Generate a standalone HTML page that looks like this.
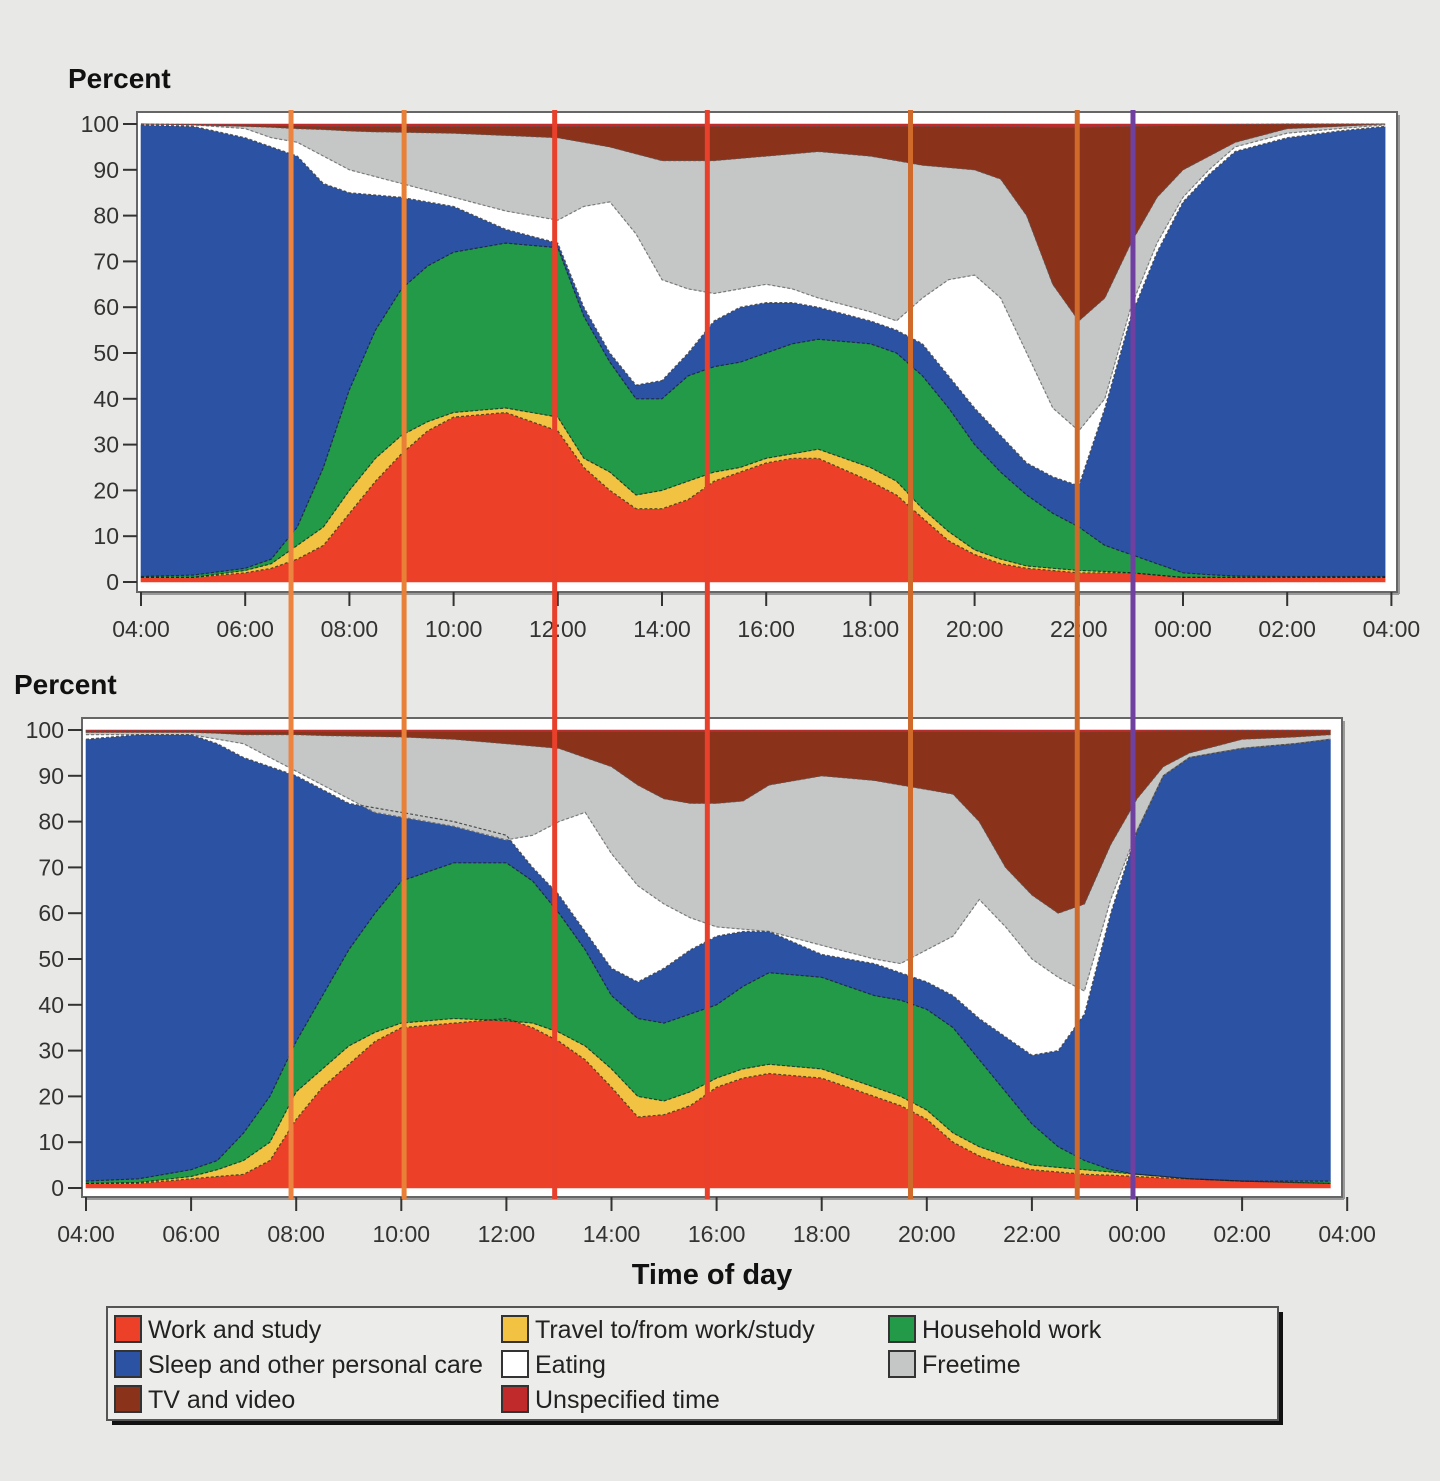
<!DOCTYPE html>
<html><head><meta charset="utf-8"><style>
html,body{margin:0;padding:0;background:#e8e8e6;}
svg{display:block;font-family:"Liberation Sans",sans-serif;}
</style></head><body>
<svg id="chart" width="1440" height="1481" viewBox="0 0 1440 1481" xmlns="http://www.w3.org/2000/svg">
<rect x="0" y="0" width="1440" height="1481" fill="#e8e8e6"/>
<g id="panels"></g>
<g id="vlines"></g>
<g id="legend">
  <rect x="112" y="1312" width="1171" height="113" fill="#111"/>
  <rect x="107" y="1307" width="1171" height="113" fill="#ececea" stroke="#555" stroke-width="2"/>
</g>
</svg>
<script>
// time grid (clock hours, 28 = 04:00 next day)
const topHours = [4,5,6,6.5,7,7.5,8,8.5,9,9.5,10,11,12,12.5,13,13.5,14,14.5,15,15.5,16,16.5,17,18,18.5,19,19.5,20,20.5,21,21.5,22,22.5,23,23.5,24,24.5,25,26,27,27.88];
const botHours = [4,5,6,6.5,7,7.5,8,8.5,9,9.5,10,11,12,12.5,13,13.5,14,14.5,15,15.5,16,16.5,17,18,18.5,19,19.5,20,20.5,21,21.5,22,22.5,23,23.5,24,24.5,25,26,27,27.68];
const tickLabels = ["04:00","06:00","08:00","10:00","12:00","14:00","16:00","18:00","20:00","22:00","00:00","02:00","04:00"];
const yTicks = [0,10,20,30,40,50,60,70,80,90,100];
const seriesNames = ["Work and study","Travel to/from work/study","Household work","Sleep and other personal care","Eating","Freetime","TV and video","Unspecified time"];
// Top panel cumulative upper bounds (%)
const topWork = [1,1,2,3,5,8,15,22,28,33,36,37,33,25,20,16,16,18,22,24,26,27,27,22,19,14,9,6,4,3,2.5,2,2,2,1.5,1,1,1,1,1,1];
const topTravel = [1,1,2.5,4,8,12,20,27,32,35,37,38,36,27,24,19,20,22,24,25,27,28,29,25,22,16,11,7,5,3.5,3,2.5,2.3,2,1.5,1,1,1,1,1,1];
const topHousehold = [1.2,1.5,3,5,12,25,42,55,64,69,72,74,73,58,48,40,40,45,47,48,50,52,53,52,50,45,38,30,24,19,15,12,8,6,4,2,1.6,1.3,1.2,1.2,1.2];
const topSleep = [99.8,99.5,97,95,93,87,85,84.5,84,83,82,77,74,60,50,43,44,50,57,60,61,61,60,57,55,52,45,38,32,26,23,21,38,58,72,83,89,94,97,98.5,99.5];
const topEating = [99.9,99.8,99,97,96,93,90,88.5,87,85.5,84,81,79,82,83,76,66,64,63,64,65,64,62,59,57,62,66,67,62,50,38,33,40,60,74,84,90,95,98,99,99.8];
const topFree = [100,99.8,99.5,99.3,99,98.8,98.5,98.3,98.2,98.1,98,97.5,97,96,95,93.5,92,92,92,92.5,93,93.5,94,93,92,91,90.5,90,88,80,65,57,62,74,84,90,93,96,99,99.5,100];
const topTV = [100,99.9,99.8,99.7,99.6,99.5,99.5,99.5,99.5,99.5,99.5,99.5,99.5,99.5,99.5,99.5,99.5,99.5,99.5,99.5,99.5,99.5,99.5,99.5,99.5,99.5,99.5,99.4,99.4,99.4,99.3,99.3,99.4,99.5,99.6,99.7,99.8,99.9,100,100,100];
// Bottom panel cumulative upper bounds (%)
const botWork = [1,1,2,2.5,3,6,15,22,27,32,35,36,37,35,32,28,22,15.5,16,18,22,24,25,24,22,20,18,15,10,7,5,4,3.5,3,2.8,2.5,2.2,2,1.5,1.2,1];
const botTravel = [1,1.2,2.5,4,6,10,21,26,31,34,36,37,36.5,36,34,31,26,20,19,21,24,26,27,26,24,22,20,17,12,9,7,5,4.5,4,3.5,3,2.5,2,1.5,1.2,1];
const botHousehold = [1.5,2,4,6,12,20,32,42,52,60,67,71,71,67,60,52,42,37,36,38,40,44,47,46,44,42,41,39,35,28,21,14,9,6,4,3,2.5,2,1.5,1.5,1.5];
const botSleep = [98,99,99,97,94,92,90,87,84,83,82,80,77,70,64,56,48,45,48,52,55,56,56,51,50,49,47,45,42,37,33,29,30,38,60,78,90,94,96,97,98];
const botEating = [99,99,99,98,97,94,91,88,85,82,81,79,76,77,80,82,73,66,62,59,57,56.5,56,53,51.5,50,49,52,55,63,57,50,46,43,63,78,90,94,96,97,98];
const botFree = [99.5,99.5,99.5,99.3,99,99,99,98.8,98.7,98.6,98.5,98,97,96.5,96,94,92,88,85,84,84,84.5,88,90,89.5,89,88,87,86,80,70,64,60,62,75,85,92,95,98,98.5,99];
const botTV = [99.8,99.8,99.8,99.7,99.7,99.7,99.7,99.7,99.7,99.7,99.7,99.7,99.7,99.7,99.7,99.7,99.7,99.7,99.7,99.7,99.7,99.7,99.7,99.7,99.7,99.7,99.7,99.7,99.7,99.7,99.6,99.6,99.6,99.6,99.7,99.7,99.8,99.8,99.9,99.9,99.9];
// vertical marker times (top-panel clock hours)
const markerHours = [6.88,9.05,11.94,14.87,18.77,21.97,23.04];

const colors = ["#ec4128","#f2c342","#229a48","#2b52a3","#ffffff","#c5c7c7","#8b321b","#c02a2a"];
const layerKeys = ["work","travel","household","sleep","eating","freetime","tv","unspecified"];
const NS = "http://www.w3.org/2000/svg";
function mk(tag, attrs, parent){const e=document.createElementNS(NS,tag);for(const k in attrs)e.setAttribute(k,attrs[k]);if(parent)parent.appendChild(e);return e;}

function drawPanel(cfg, hours, cums, idx){
  const g = mk("g",{},document.getElementById("panels"));
  
  
  const xS = h => cfg.x0 + (h-4)*cfg.pxh;
  const yS = v => cfg.y0 - v*cfg.pxv;
  const fr = mk("rect",{x:cfg.fx,y:cfg.fy,width:cfg.fw,height:cfg.fh,fill:"#fff",stroke:"#666","stroke-width":2},g);
  
  
  mk("line",{x1:cfg.fx+cfg.fw+2,y1:cfg.fy+3,x2:cfg.fx+cfg.fw+2,y2:cfg.fy+cfg.fh+2,stroke:"#999","stroke-width":2},g);
  mk("line",{x1:cfg.fx+3,y1:cfg.fy+cfg.fh+2,x2:cfg.fx+cfg.fw+2,y2:cfg.fy+cfg.fh+2,stroke:"#999","stroke-width":2},g);
  const lowers = [hours.map(()=>0)].concat(cums);
  const uppers = cums.concat([hours.map(()=>100)]);
  for(let L=0;L<8;L++){
    let d="";
    hours.forEach((h,i)=>{d+=(i?"L":"M")+xS(h).toFixed(1)+","+yS(uppers[L][i]).toFixed(1);});
    for(let i=hours.length-1;i>=0;i--){d+="L"+xS(hours[i]).toFixed(1)+","+yS(lowers[L][i]).toFixed(1);}
    d+="Z";
    const p = mk("path",{d:d,fill:colors[L],stroke:colors[L],"stroke-width":0.6},g);
    
    
  }
  for(let L=0;L<7;L++){
    let d="";
    hours.forEach((h,i)=>{d+=(i?"L":"M")+xS(h).toFixed(1)+","+yS(cums[L][i]).toFixed(1);});
    mk("path",{d:d,fill:"none",stroke:L>=4?"#555":"#1a1a1a","stroke-width":1.2,"stroke-dasharray":"3 2",opacity:0.7},g);
  }
  yTicks.forEach(v=>{
    const y=yS(v);
    mk("line",{x1:cfg.fx-14,y1:y,x2:cfg.fx,y2:y,stroke:"#333","stroke-width":2},g);
    const t=mk("text",{x:cfg.fx-18,y:y+8,"text-anchor":"end","font-size":23,fill:"#333"},g);
    t.textContent=v;
    
    
  });
  tickLabels.forEach((lab,i)=>{
    const x=xS(4+i*2);
    mk("line",{x1:x,y1:cfg.fy+cfg.fh,x2:x,y2:cfg.fy+cfg.fh+14,stroke:"#333","stroke-width":2},g);
    const t=mk("text",{x:x,y:cfg.fy+cfg.fh+45,"text-anchor":"middle","font-size":23,fill:"#333"},g);
    t.textContent=lab;
    
    
  });
  const yt=mk("text",{x:cfg.tx,y:cfg.ty,"font-size":28,"font-weight":"bold",fill:"#111"},g);
  yt.textContent="Percent";
  
  
}

drawPanel({x0:141,pxh:52.1,y0:582,pxv:4.58,fx:137,fy:112,fw:1260,fh:480,tx:68,ty:88},
  topHours,[topWork,topTravel,topHousehold,topSleep,topEating,topFree,topTV],"top");
drawPanel({x0:86,pxh:52.55,y0:1188,pxv:4.58,fx:82,fy:718,fw:1260,fh:479,tx:14,ty:694},
  botHours,[botWork,botTravel,botHousehold,botSleep,botEating,botFree,botTV],"bottom");

const xt = mk("text",{x:712,y:1284,"text-anchor":"middle","font-size":29,"font-weight":"bold",fill:"#111"},document.getElementById("chart"));
xt.textContent="Time of day";



const lineColors = ["#ec8440","#e88038","#e8402a","#e8402a","#cf6a2a","#cf6a2a","#7040a0"];
const vg=document.getElementById("vlines");
markerHours.forEach((h,i)=>{
  const x=141+(h-4)*52.1;
  const l=mk("line",{x1:x,y1:110,x2:x,y2:1199,stroke:lineColors[i],"stroke-width":5},vg);
  
  
});

const lg=document.getElementById("legend");
const legPos=[[115,1316],[502,1316],[889,1316],[115,1351],[502,1351],[889,1351],[115,1386],[502,1386]];
[0,1,2,3,4,5,6,7].forEach((s,i)=>{
  const [x,y]=legPos[i];
  const r=mk("rect",{x:x,y:y,width:26,height:26,fill:colors[s],stroke:"#333","stroke-width":2},lg);
  
  
  const t=mk("text",{x:x+33,y:y+22,"font-size":25,fill:"#222"},lg);
  t.textContent=seriesNames[s];
  
  
});
</script>
</body></html>
